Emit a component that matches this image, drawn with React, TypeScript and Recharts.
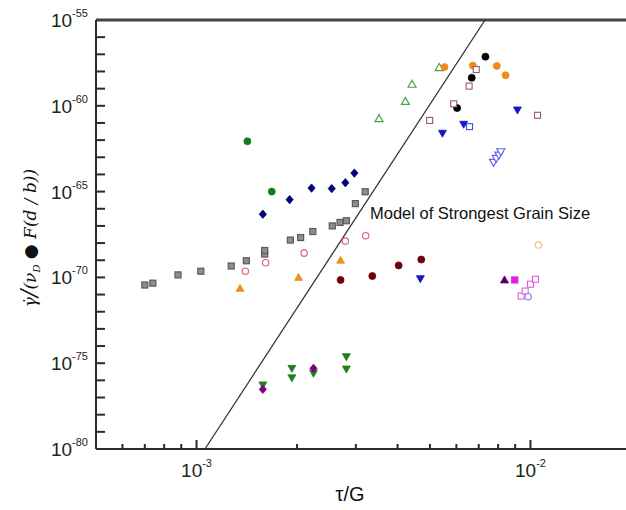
import { ReferenceLine, Scatter, ScatterChart, XAxis, YAxis } from 'recharts'

const FONT = '"Liberation Sans", Arial, sans-serif'
const INK = '#2a2a2a'

// tau/G (x) and normalised strain rate (y)
const greySquareTau = [7.0e-4, 7.4e-4, 8.8e-4, 1.03e-3, 1.27e-3, 1.41e-3, 1.6e-3, 1.6e-3, 1.91e-3, 2.05e-3, 2.23e-3, 2.55e-3, 2.69e-3, 2.81e-3, 2.99e-3, 3.2e-3]
const greySquareRate = [3.6e-71, 4.6e-71, 1.4e-70, 2.3e-70, 4.6e-70, 9.3e-70, 2.3e-69, 3.7e-69, 1.5e-68, 2.1e-68, 4.7e-68, 1.0e-67, 1.6e-67, 2.0e-67, 2.0e-66, 9.8e-66]

const greenDotTau = [1.42e-3, 1.68e-3]
const greenDotRate = [8.5e-63, 1.0e-65]

const navyDiamondTau = [1.58e-3, 1.9e-3, 2.21e-3, 2.54e-3, 2.79e-3, 2.97e-3]
const navyDiamondRate = [4.8e-67, 3.4e-66, 1.6e-65, 1.5e-65, 3.3e-65, 1.2e-64]

const greenOpenTriTau = [3.52e-3, 4.22e-3, 4.42e-3, 5.33e-3]
const greenOpenTriRate = [1.8e-61, 1.8e-60, 1.8e-59, 1.7e-58]

const orangeDotTau = [5.53e-3, 6.72e-3, 7.93e-3, 8.42e-3]
const orangeDotRate = [1.8e-58, 2.2e-58, 2.1e-58, 6.0e-59]

const blackDotTau = [6.03e-3, 6.67e-3, 7.33e-3]
const blackDotRate = [7.4e-61, 4.3e-59, 7.3e-58]

const brownOpenSqTau = [4.99e-3, 5.89e-3, 6.55e-3, 6.88e-3, 1.05e-2]
const brownOpenSqRate = [1.4e-61, 1.3e-60, 1.4e-59, 1.3e-58, 2.8e-61]

const blueDownTriTau = [4.68e-3, 5.45e-3, 6.31e-3, 9.14e-3]
const blueDownTriRate = [8.4e-71, 2.5e-62, 8.4e-62, 5.7e-61]

const blueOpenSqTau = [6.57e-3]
const blueOpenSqRate = [6.1e-62]

const violetOpenTriTau = [7.75e-3, 7.9e-3, 8.04e-3, 8.15e-3]
const violetOpenTriRate = [5.1e-64, 8.7e-64, 1.35e-63, 2.1e-63]

const pinkOpenCircleTau = [1.4e-3, 1.61e-3, 2.1e-3, 2.79e-3, 3.21e-3]
const pinkOpenCircleRate = [2.3e-70, 7.2e-70, 2.6e-69, 1.3e-68, 2.7e-68]

const orangeTriTau = [1.35e-3, 2.02e-3, 2.7e-3]
const orangeTriRate = [2.3e-71, 1.0e-70, 1.0e-69]

const maroonDotTau = [2.7e-3, 3.36e-3, 4.03e-3, 4.71e-3]
const maroonDotRate = [7.1e-71, 1.2e-70, 5.0e-70, 1.1e-69]

const purpleTriTau = [8.36e-3]
const purpleTriRate = [7.1e-71]

const magentaSqTau = [8.97e-3]
const magentaSqRate = [7.1e-71]

const magentaOpenSqTau = [9.38e-3, 9.64e-3, 1.0e-2, 1.035e-2]
const magentaOpenSqRate = [8.2e-72, 1.6e-71, 4.0e-71, 7.8e-71]

const lightBlueCircleTau = [9.84e-3]
const lightBlueCircleRate = [7.5e-72]

const tanCircleTau = [1.057e-2]
const tanCircleRate = [7.7e-69]

const greenDownTriTau = [1.58e-3, 1.93e-3, 1.93e-3, 2.24e-3, 2.81e-3, 2.81e-3]
const greenDownTriRate = [5.4e-77, 5.0e-76, 1.4e-76, 2.6e-76, 2.4e-75, 4.6e-76]

const purpleDiamondTau = [1.58e-3, 2.24e-3]
const purpleDiamondRate = [3.0e-77, 5.0e-76]

// strongest grain size model line end points
const modelTau = [1.06e-3, 7.31e-3]
const modelRate = [1e-80, 1e-55]

const xTicks = [5e-4, 6e-4, 7e-4, 8e-4, 9e-4, 1e-3, 2e-3, 3e-3, 4e-3, 5e-3, 6e-3, 7e-3, 8e-3, 9e-3, 1e-2, 2e-2]
const yExponents = [-80, -79, -78, -77, -76, -75, -74, -73, -72, -71, -70, -69, -68, -67, -66, -65, -64, -63, -62, -61, -60, -59, -58, -57, -56, -55]
const yTicks = yExponents.map((e) => Math.pow(10, e))

type Kind = 'circle' | 'square' | 'diamond' | 'triUp' | 'triDown'

interface SeriesDef {
  name: string
  tau: number[]
  rate: number[]
  kind: Kind
  color: string
  open?: boolean
  fill?: string
}

const seriesList: SeriesDef[] = [
  { name: 'greySquare', tau: greySquareTau, rate: greySquareRate, kind: 'square', color: '#5a5a5a', fill: '#8e8e8e' },
  { name: 'greenDot', tau: greenDotTau, rate: greenDotRate, kind: 'circle', color: '#17781c' },
  { name: 'navyDiamond', tau: navyDiamondTau, rate: navyDiamondRate, kind: 'diamond', color: '#00007c' },
  { name: 'greenOpenTri', tau: greenOpenTriTau, rate: greenOpenTriRate, kind: 'triUp', color: '#4aa24a', open: true },
  { name: 'orangeDot', tau: orangeDotTau, rate: orangeDotRate, kind: 'circle', color: '#f08a1c' },
  { name: 'blackDot', tau: blackDotTau, rate: blackDotRate, kind: 'circle', color: '#000000' },
  { name: 'brownOpenSq', tau: brownOpenSqTau, rate: brownOpenSqRate, kind: 'square', color: '#9c5a5a', open: true },
  { name: 'blueDownTri', tau: blueDownTriTau, rate: blueDownTriRate, kind: 'triDown', color: '#1414c8' },
  { name: 'blueOpenSq', tau: blueOpenSqTau, rate: blueOpenSqRate, kind: 'square', color: '#4050e0', open: true },
  { name: 'violetOpenTri', tau: violetOpenTriTau, rate: violetOpenTriRate, kind: 'triDown', color: '#6464ec', open: true },
  { name: 'pinkOpenCircle', tau: pinkOpenCircleTau, rate: pinkOpenCircleRate, kind: 'circle', color: '#e0607e', open: true },
  { name: 'orangeTri', tau: orangeTriTau, rate: orangeTriRate, kind: 'triUp', color: '#f0901c' },
  { name: 'maroonDot', tau: maroonDotTau, rate: maroonDotRate, kind: 'circle', color: '#6e0010' },
  { name: 'purpleTri', tau: purpleTriTau, rate: purpleTriRate, kind: 'triUp', color: '#520064' },
  { name: 'magentaSq', tau: magentaSqTau, rate: magentaSqRate, kind: 'square', color: '#e01ee0' },
  { name: 'magentaOpenSq', tau: magentaOpenSqTau, rate: magentaOpenSqRate, kind: 'square', color: '#e05ae0', open: true },
  { name: 'lightBlueCircle', tau: lightBlueCircleTau, rate: lightBlueCircleRate, kind: 'circle', color: '#7088f0', open: true },
  { name: 'tanCircle', tau: tanCircleTau, rate: tanCircleRate, kind: 'circle', color: '#f0c080', open: true },
  { name: 'greenDownTri', tau: greenDownTriTau, rate: greenDownTriRate, kind: 'triDown', color: '#1e801e' },
  { name: 'purpleDiamond', tau: purpleDiamondTau, rate: purpleDiamondRate, kind: 'diamond', color: '#7c0080' },
]

function makeMarker(def: SeriesDef) {
  return (props: any) => {
    const { cx, cy } = props
    if (cx == null || cy == null) return <g />
    const fill = def.open ? '#ffffff' : def.fill ?? def.color
    const sw = def.open ? 1.2 : 0.8
    switch (def.kind) {
      case 'circle':
        return <circle cx={cx} cy={cy} r={def.open ? 3.2 : 3.5} fill={fill} stroke={def.color} strokeWidth={sw} />
      case 'square':
        return <rect x={cx - 3} y={cy - 3} width={6} height={6} fill={fill} stroke={def.color} strokeWidth={def.open ? 1.1 : 1.2} />
      case 'diamond':
        return <polygon points={`${cx},${cy - 4.2} ${cx + 3.6},${cy} ${cx},${cy + 4.2} ${cx - 3.6},${cy}`} fill={fill} stroke={def.color} strokeWidth={sw} />
      case 'triUp':
        return <polygon points={`${cx},${cy - 4} ${cx + 4},${cy + 3} ${cx - 4},${cy + 3}`} fill={fill} stroke={def.color} strokeWidth={sw} />
      default:
        return <polygon points={`${cx - 4},${cy - 3} ${cx + 4},${cy - 3} ${cx},${cy + 4}`} fill={fill} stroke={def.color} strokeWidth={sw} />
    }
  }
}

function YTick(props: any) {
  const { x, y, payload } = props
  const exp = Math.round(Math.log10(payload.value))
  return (
    <g>
      {exp !== -55 && exp !== -80 && <line x1={x} x2={x + 9} y1={y} y2={y} stroke={INK} strokeWidth={2} />}
      {exp % 5 === 0 && (
        <text x={x - 8} y={y + 7} textAnchor="end" fontFamily={FONT} fill="#222">
          <tspan fontSize={19}>10</tspan>
          <tspan fontSize={11} dy={-10}>{exp}</tspan>
        </text>
      )}
    </g>
  )
}

function XTick(props: any) {
  const { x, y, payload } = props
  const lg = Math.log10(payload.value)
  const major = Math.abs(lg - Math.round(lg)) < 1e-6
  const edge = payload.value <= 5e-4 || payload.value >= 2e-2
  return (
    <g>
      {!edge && <line x1={x} x2={x} y1={y} y2={y - (major ? 9 : 5)} stroke={INK} strokeWidth={2} />}
      {major && !edge && (
        <text x={x} y={y + 28} textAnchor="middle" fontFamily={FONT} fill="#222">
          <tspan fontSize={19}>10</tspan>
          <tspan fontSize={11} dy={-10}>{Math.round(lg)}</tspan>
        </text>
      )}
    </g>
  )
}

export default function App() {
  const modelData = modelTau.map((tau, i) => ({ tau, rate: modelRate[i] }))
  return (
    <div style={{ position: 'absolute', left: 0, top: 0, width: 626, height: 510, overflow: 'hidden', background: '#fff' }}>
      <ScatterChart width={631} height={510} margin={{ top: 20, right: 0, bottom: 0, left: 0 }}>
        <XAxis
          type="number"
          dataKey="tau"
          scale="log"
          domain={[5e-4, 2e-2]}
          ticks={xTicks}
          interval={0}
          allowDataOverflow
          height={61}
          tickSize={0}
          tickMargin={0}
          tickLine={false}
          axisLine={{ stroke: INK, strokeWidth: 2 }}
          tick={<XTick />}
        />
        <YAxis
          type="number"
          dataKey="rate"
          scale="log"
          domain={[1e-80, 1e-55]}
          ticks={yTicks}
          interval={0}
          allowDataOverflow
          width={96}
          tickSize={0}
          tickMargin={0}
          tickLine={false}
          axisLine={{ stroke: INK, strokeWidth: 2 }}
          tick={<YTick />}
        />
        <ReferenceLine y={1e-55} stroke="#444" strokeWidth={3} />
        <ReferenceLine
          segment={[
            { x: modelData[0].tau, y: modelData[0].rate },
            { x: modelData[1].tau, y: modelData[1].rate },
          ]}
          stroke="#333"
          strokeWidth={1.3}
        />
        {seriesList.map((def) => (
          <Scatter
            key={def.name}
            name={def.name}
            data={def.tau.map((tau, i) => ({ tau, rate: def.rate[i] }))}
            shape={makeMarker(def)}
            isAnimationActive={false}
          />
        ))}
      </ScatterChart>
      <svg width={626} height={510} style={{ position: 'absolute', left: 0, top: 0, pointerEvents: 'none' }}>
        <text x={370} y={219} fontFamily={FONT} fontSize={16.5} fill="#111">
          Model of Strongest Grain Size
        </text>
        <text x={350} y={501} textAnchor="middle" fontFamily={FONT} fontSize={20} fill="#111">
          τ/G
        </text>
        <text
          x={36}
          y={238}
          transform="rotate(-90 36 238)"
          textAnchor="middle"
          fontFamily='"DejaVu Serif", serif'
          fontStyle="italic"
          fontSize={17}
          fill="#111"
        >
          <tspan>γ̇</tspan>
          <tspan fontSize={22}>/</tspan>
          <tspan>(ν</tspan>
          <tspan fontSize={10} dy={4}>D</tspan>
          <tspan dy={-4} fontStyle="normal"> ● </tspan>
          <tspan>F(d / b))</tspan>
        </text>
      </svg>
    </div>
  )
}
